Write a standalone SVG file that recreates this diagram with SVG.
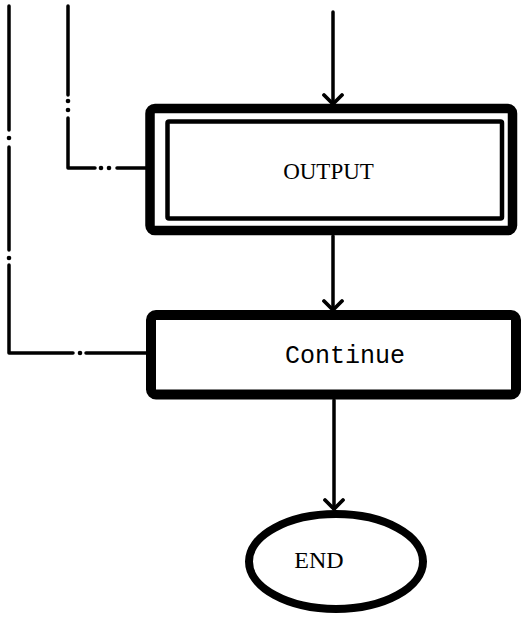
<svg xmlns="http://www.w3.org/2000/svg" width="521" height="622" viewBox="0 0 521 622">
  <style>
    .bg { fill: #ffffff; }
    .frame { fill: none; stroke: #000; stroke-linejoin: round; }
    .flow { fill: none; stroke: #000; stroke-width: 3.5; stroke-linecap: round; }
    .dd { fill: none; stroke: #000; stroke-width: 3.5; stroke-linecap: round; stroke-linejoin: round; }
    .dot { fill: #000; }
    .serif { font-family: "Liberation Serif", "Times New Roman", serif; fill: #000; }
    .mono { font-family: "Liberation Mono", "Courier New", monospace; fill: #000; }
  </style>
  <defs>
    <marker id="chevron" markerUnits="userSpaceOnUse" viewBox="-12 -12 14 24" markerWidth="14" markerHeight="24" refX="0" refY="0" orient="auto">
      <path d="M-9,-9 L0,0 L-9,9" fill="none" stroke="#000" stroke-width="3.8" stroke-linecap="round" stroke-linejoin="round"/>
    </marker>
  </defs>

  <rect class="bg" x="0" y="0" width="521" height="622"/>

  <!-- connectors -->
  <g id="connectors">
    <!-- main flow -->
    <path class="flow" d="M333,12 L333,104" marker-end="url(#chevron)"/>
    <path class="flow" d="M333,236 L333,310" marker-end="url(#chevron)"/>
    <path class="flow" d="M334,400 L334,509" marker-end="url(#chevron)"/>

    <!-- dash-dot return line into OUTPUT -->
    <path class="dd" d="M68,6 L68,95 M68,118 L68,168 L95,168 M117,168 L147,168"/>
    <circle class="dot" cx="68" cy="101" r="2.3"/>
    <circle class="dot" cx="68" cy="110" r="2.3"/>
    <circle class="dot" cx="101" cy="168" r="2.3"/>
    <circle class="dot" cx="109" cy="168" r="2.3"/>

    <!-- dash-dot return line into Continue -->
    <path class="dd" d="M9,6 L9,130 M9,147 L9,250 M9,265 L9,353 L73,353 M86,353 L147,353"/>
    <circle class="dot" cx="9" cy="138" r="2.3"/>
    <circle class="dot" cx="9" cy="258" r="2.3"/>
    <circle class="dot" cx="80" cy="353" r="2.3"/>
  </g>

  <!-- OUTPUT: double-bordered box -->
  <g id="node-output">
    <rect class="frame" x="150" y="108.5" width="362.5" height="122" rx="5" stroke-width="9.5"/>
    <rect class="frame" x="167.5" y="121.5" width="334.5" height="97" rx="1.5" stroke-width="4.5"/>
    <text class="serif" x="328.5" y="179" font-size="23" text-anchor="middle">OUTPUT</text>
  </g>

  <!-- Continue box -->
  <g id="node-continue">
    <rect class="frame" x="151" y="315" width="365" height="79.5" rx="5" stroke-width="10"/>
    <text class="mono" x="345" y="363" font-size="25" text-anchor="middle">Continue</text>
  </g>

  <!-- END terminator -->
  <g id="node-end">
    <ellipse class="frame" cx="336" cy="561.5" rx="87" ry="47.5" stroke-width="8"/>
    <text class="serif" x="319" y="568" font-size="24" text-anchor="middle">END</text>
  </g>
</svg>
